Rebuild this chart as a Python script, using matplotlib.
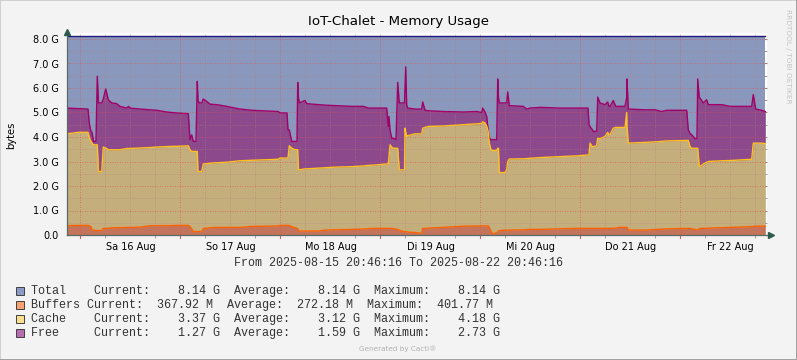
import numpy as np
import matplotlib
matplotlib.use("Agg")
import matplotlib.pyplot as plt
from matplotlib.lines import Line2D
from matplotlib.patches import Rectangle
from datetime import datetime

# ---------------- data ----------------
start = datetime(2025, 8, 15, 20, 46, 16)
end = datetime(2025, 8, 22, 20, 46, 16)

# hours after start
hours = [
    0, 2.64, 5.04, 5.4, 5.76, 6.0, 6.36, 6.96, 7.27, 7.56,
    8.33, 8.71, 9.29, 9.91, 10.73, 11.93, 12.72, 14.33, 14.76, 15.12,
    17.52, 19.92, 21.53, 23.93, 26.33, 29.11, 29.52, 29.93, 30.31, 30.96,
    31.27, 31.44, 31.75, 32.33, 32.71, 33.53, 34.32, 35.93, 38.33, 41.52,
    44.33, 50.71, 51.12, 52.8, 53.04, 53.35, 53.93, 54.72, 55.2, 55.37,
    55.56, 55.75, 57.12, 57.53, 60.31, 61.92, 64.32, 68.33, 71.11, 72.31,
    74.16, 76.73, 77.11, 77.28, 77.52, 77.93, 78.31, 78.96, 79.37, 79.75,
    80.33, 81.0, 81.12, 81.29, 81.53, 81.77, 83.52, 85.13, 85.37, 85.92,
    86.71, 90.31, 95.11, 98.33, 99.53, 99.77, 100.32, 100.73, 101.11, 101.35,
    101.76, 102.17, 103.13, 103.37, 103.56, 103.75, 105.12, 105.53, 105.77, 106.15,
    109.51, 110.33, 111.12, 113.52, 118.32, 122.33, 125.04, 125.28, 125.52, 126.07,
    126.31, 127.13, 127.37, 127.92, 129.12, 129.77, 130.08, 130.32, 131.11, 131.69,
    132.31, 133.92, 134.33, 134.4, 134.71, 138.72, 141.12, 142.73, 143.93, 148.73,
    149.11, 149.52, 149.93, 150.72, 151.2, 151.37, 151.75, 151.92, 152.71, 153.53,
    153.91, 157.13, 159.12, 164.33, 164.71, 165.29, 166.73, 167.6,
]

# values in G
buffers = [
    .38, .39, .39, .37, .34, .20, .20, .18, .18, .18,
    .18, .27, .27, .28, .29, .30, .30, .31, .31, .31,
    .32, .38, .38, .38, .39, .39, .34, .25, .14, .14,
    .14, .14, .14, .14, .27, .28, .30, .31, .31, .31,
    .35, .37, .39, .39, .39, .39, .34, .30, .27, .25,
    .16, .16, .16, .16, .16, .20, .21, .23, .24, .26,
    .27, .27, .27, .27, .27, .27, .26, .24, .22, .20,
    .16, .14, .14, .13, .12, .12, .10, .07, .27, .27,
    .28, .31, .36, .37, .37, .37, .37, .37, .37, .30,
    .15, .04, .10, .13, .16, .18, .20, .20, .20, .20,
    .21, .22, .23, .23, .25, .27, .27, .27, .27, .27,
    .27, .27, .27, .27, .27, .27, .27, .27, .27, .28,
    .31, .31, .31, .31, .20, .20, .22, .24, .25, .27,
    .27, .27, .25, .23, .20, .22, .25, .27, .27, .27,
    .28, .30, .31, .34, .35, .36, .36, .36,
]

cache = [
    3.75, 3.80, 3.80, 3.58, 3.48, 3.55, 3.48, 3.50, 3.50, 2.41,
    2.41, 3.32, 3.28, 3.20, 3.19, 3.18, 3.18, 3.22, 3.22, 3.22,
    3.23, 3.19, 3.21, 3.23, 3.23, 3.25, 3.14, 3.16, 3.27, 3.27,
    3.27, 2.45, 2.45, 2.45, 2.63, 2.63, 2.63, 2.64, 2.66, 2.72,
    2.70, 2.72, 2.75, 2.75, 2.75, 3.25, 3.20, 3.18, 3.21, 3.23,
    2.50, 2.50, 2.54, 2.54, 2.57, 2.55, 2.56, 2.56, 2.58, 2.58,
    2.59, 2.63, 2.63, 2.93, 3.41, 3.32, 3.28, 3.30, 3.32, 2.46,
    2.50, 2.52, 4.22, 4.07, 3.90, 3.93, 4.03, 4.06, 4.09, 4.12,
    4.15, 4.14, 4.14, 4.16, 4.18, 4.25, 4.20, 4.08, 3.83, 3.45,
    3.33, 3.41, 3.35, 3.41, 3.38, 2.37, 2.35, 2.46, 2.80, 2.90,
    2.90, 2.90, 2.90, 2.93, 2.95, 2.96, 3.00, 3.00, 3.48, 3.34,
    3.34, 3.37, 3.68, 3.66, 3.75, 3.92, 3.82, 3.82, 4.09, 4.11,
    4.08, 4.08, 4.69, 4.19, 3.55, 3.58, 3.58, 3.58, 3.59, 3.59,
    3.59, 3.34, 3.29, 3.31, 3.34, 3.32, 2.54, 2.52, 2.63, 2.70,
    2.72, 2.73, 2.73, 2.75, 3.40, 3.39, 3.39, 3.37,
]

free = [
    1.05, 0.97, 0.95, 0.55, 0.41, 0.44, 0.14, 0.14, 2.80, 2.80,
    2.80, 1.96, 2.41, 2.04, 1.91, 1.88, 1.77, 1.65, 1.72, 1.65,
    1.59, 1.54, 1.50, 1.41, 1.36, 1.31, 0.41, 0.68, 0.41, 0.41,
    2.86, 2.90, 2.80, 2.80, 2.65, 2.54, 2.41, 2.37, 2.28, 2.11,
    2.04, 1.95, 1.84, 1.84, 1.15, 0.65, 0.28, 0.34, 0.34, 2.75,
    2.94, 2.73, 2.79, 2.66, 2.59, 2.55, 2.51, 2.46, 2.43, 2.34,
    2.32, 2.28, 1.53, 1.64, 0.61, 0.36, 0.41, 0.35, 2.69, 2.73,
    2.73, 2.73, 1.64, 2.66, 1.28, 1.13, 1.01, 1.01, 1.07, 0.70,
    0.64, 0.59, 0.52, 0.51, 0.45, 0.56, 0.45, 0.39, 0.03, 0.20,
    0.41, 0.44, 0.44, 2.83, 2.06, 2.84, 2.84, 2.73, 2.84, 2.18,
    2.14, 2.02, 2.05, 2.05, 1.98, 1.95, 1.91, 1.23, 0.68, 0.69,
    0.62, 0.59, 1.68, 1.46, 1.30, 1.24, 1.16, 1.16, 1.13, 0.86,
    0.86, 0.86, 0.60, 1.87, 1.39, 1.33, 1.31, 1.22, 1.25, 1.23,
    0.43, 0.54, 0.55, 0.39, 0.39, 2.83, 2.81, 2.80, 2.49, 2.55,
    2.32, 2.29, 2.21, 2.16, 1.98, 1.39, 1.34, 1.31,
]

total_value = 8.14

ytick_values = [0, 1, 2, 3, 4, 5, 6, 7, 8]
ytick_labels = ["0.0", "1.0 G", "2.0 G", "3.0 G", "4.0 G", "5.0 G", "6.0 G", "7.0 G", "8.0 G"]
day_numbers = [16, 17, 18, 19, 20, 21, 22]
day_labels = ["Sa 16 Aug", "So 17 Aug", "Mo 18 Aug", "Di 19 Aug", "Mi 20 Aug", "Do 21 Aug", "Fr 22 Aug"]

legend_names = ["Total", "Buffers", "Cache", "Free"]
legend_current = ["8.14 G", "367.92 M", "3.37 G", "1.27 G"]
legend_average = ["8.14 G", "272.18 M", "3.12 G", "1.59 G"]
legend_maximum = ["8.14 G", "401.77 M", "4.18 G", "2.73 G"]

# ---------------- styling ----------------
W, H = 797, 360
C_BG = "#F3F3F3"
C_TOTAL_AREA = "#8A98BE"
C_FREE_AREA = "#8C4A8C"
C_CACHE_AREA = "#C4AE7C"
C_BUF_AREA = "#C4745A"
C_TOTAL_LINE = "#1C1C78"
C_FREE_LINE = "#A00068"
C_CACHE_LINE = "#FFC020"
C_BUF_LINE = "#FF6000"
SQ_COLORS = ["#8D9AC8", "#F7A070", "#FCDF8E", "#B96DB0"]

fig = plt.figure(figsize=(W / 100, H / 100), dpi=100, facecolor=C_BG)

def fx(px):
    return px / W

def fy(py):
    return 1 - py / H

ax_l, ax_r, ax_t, ax_b = 67, 767, 33, 235
ax = fig.add_axes([fx(ax_l), fy(ax_b), (ax_r - ax_l) / W, (ax_b - ax_t) / H])
ax.set_facecolor("white")

span_h = (end - start).total_seconds() / 3600.0
ax.set_xlim(0, span_h)
ax.set_ylim(0, (ax_b - ax_t) / 24.5)

h = np.array(hours)
b = np.array(buffers)
c = np.array(cache)
f = np.array(free)
bc = b + c
bcf = bc + f
tot = np.full_like(h, total_value)

ax.fill_between(h, 0, tot, color=C_TOTAL_AREA, lw=0, zorder=1)
ax.fill_between(h, 0, b, color=C_BUF_AREA, lw=0, zorder=2)
ax.fill_between(h, b, bc, color=C_CACHE_AREA, lw=0, zorder=2)
ax.fill_between(h, bc, bcf, color=C_FREE_AREA, lw=0, zorder=2)

# grid (drawn over the areas, like rrdtool)
six_h = []
midn = []
for d in range(16, 23):
    m = (datetime(2025, 8, d) - start).total_seconds() / 3600.0
    midn.append(m)
    for k in range(4):
        six_h.append(m + 6 * k)
for v in six_h:
    if v not in midn:
        ax.axvline(v, color="#B08080", lw=0.6, ls=(0, (1, 2)), alpha=0.7, zorder=3)
for v in midn:
    ax.axvline(v, color="#E05050", lw=0.6, ls=(0, (1, 2)), alpha=0.8, zorder=3)
for yv in np.arange(0.5, 8.3, 1.0):
    ax.axhline(yv, color="#B08080", lw=0.6, ls=(0, (1, 2)), alpha=0.7, zorder=3)
for yv in ytick_values[1:]:
    ax.axhline(yv, color="#E05050", lw=0.6, ls=(0, (1, 2)), alpha=0.8, zorder=3)

# lines
ax.plot(h, tot, color=C_TOTAL_LINE, lw=1.0, zorder=5)
ax.plot(h, bcf, color=C_FREE_LINE, lw=1.0, zorder=5)
ax.plot(h, bc, color=C_CACHE_LINE, lw=1.0, zorder=5)
ax.plot(h, b, color=C_BUF_LINE, lw=1.0, zorder=5)

# axes styling
for s in ["top", "right"]:
    ax.spines[s].set_visible(False)
for s in ["left", "bottom"]:
    ax.spines[s].set_color("#5A6A66")
    ax.spines[s].set_linewidth(0.9)
    ax.spines[s].set_zorder(6)

ax.set_yticks(ytick_values)
ax.set_yticklabels(ytick_labels)
ax.set_yticks(np.arange(0.5, 8.3, 1.0), minor=True)
ax.tick_params(axis="y", which="both", direction="in", length=2, color="#909090",
               labelsize=7, labelcolor="#000000", pad=6, left=True, right=True)

noon = [(datetime(2025, 8, d, 12) - start).total_seconds() / 3600.0 for d in day_numbers]
ax.set_xticks(noon)
ax.set_xticklabels(day_labels)
ax.set_xticks(six_h, minor=True)
ax.tick_params(axis="x", which="major", length=0, labelsize=7, labelcolor="#000000", pad=5)
ax.tick_params(axis="x", which="minor", direction="out", length=2, color="#909090")
for lab in ax.get_xticklabels() + ax.get_yticklabels():
    lab.set_family("DejaVu Sans")

# midnight tick marks (red-ish)
trans = ax.get_xaxis_transform()
for v in midn:
    ax.plot([v, v], [0, -0.015], transform=trans, color="#D06060", lw=0.8, clip_on=False, zorder=6)

# arrows
ax.plot([1.006], [0], marker=">", ms=4.5, color="#2E5A4C", transform=ax.transAxes, clip_on=False, zorder=7)
ax.plot([0], [1.005], marker="^", ms=4.0, color="#2E5A4C", transform=ax.transAxes, clip_on=False, zorder=7)

# ---------------- texts ----------------
fig.text(fx(398), fy(22), "IoT-Chalet - Memory Usage", ha="center", va="center",
         fontsize=9.6, family="DejaVu Sans", color="#000000")
fig.text(fx(11), fy(135), "bytes", ha="center", va="center", rotation=90,
         fontsize=7.2, family="DejaVu Sans", color="#000000")
fig.text(fx(788), fy(56), "RRDTOOL / TOBI OETIKER", ha="center", va="center", rotation=270,
         fontsize=5.3, family="DejaVu Sans", color="#C4C4C4")
fig.text(fx(398), fy(263), "From 2025-08-15 20:46:16 To 2025-08-22 20:46:16", ha="center",
         va="center", fontsize=8.4, family="Liberation Mono", color="#333333")

row_y = [291, 305, 319, 333]
for i, name in enumerate(legend_names):
    line = "%-8s" % name if name == "Buffers" else "%-9s" % name
    line += "Current:%10s  Average:%10s  Maximum:%10s" % (
        legend_current[i], legend_average[i], legend_maximum[i])
    fig.text(fx(30.5), fy(row_y[i]), line, ha="left", va="center",
             fontsize=8.5, family="Liberation Mono", color="#333333")
    fig.patches.append(Rectangle((fx(15.5), fy(row_y[i] + 4)), 8 / W, 8 / H,
                                 transform=fig.transFigure, facecolor=SQ_COLORS[i],
                                 edgecolor="#404040", lw=0.7))

fig.text(fx(398), fy(349), "Generated by Cacti\u00ae", ha="center", va="center",
         fontsize=5.2, family="DejaVu Sans", color="#B0B0B0")

# figure border
fig.lines.append(Line2D([0, 0], [0, 1], transform=fig.transFigure, color="#D0D0D0", lw=1.4))
fig.lines.append(Line2D([0, 1], [1, 1], transform=fig.transFigure, color="#D0D0D0", lw=1.4))
fig.lines.append(Line2D([1, 1], [0, 1], transform=fig.transFigure, color="#A0A0A0", lw=1.4))
fig.lines.append(Line2D([0, 1], [0, 0], transform=fig.transFigure, color="#A0A0A0", lw=1.4))

fig.savefig("out.png", dpi=100, facecolor=C_BG)
